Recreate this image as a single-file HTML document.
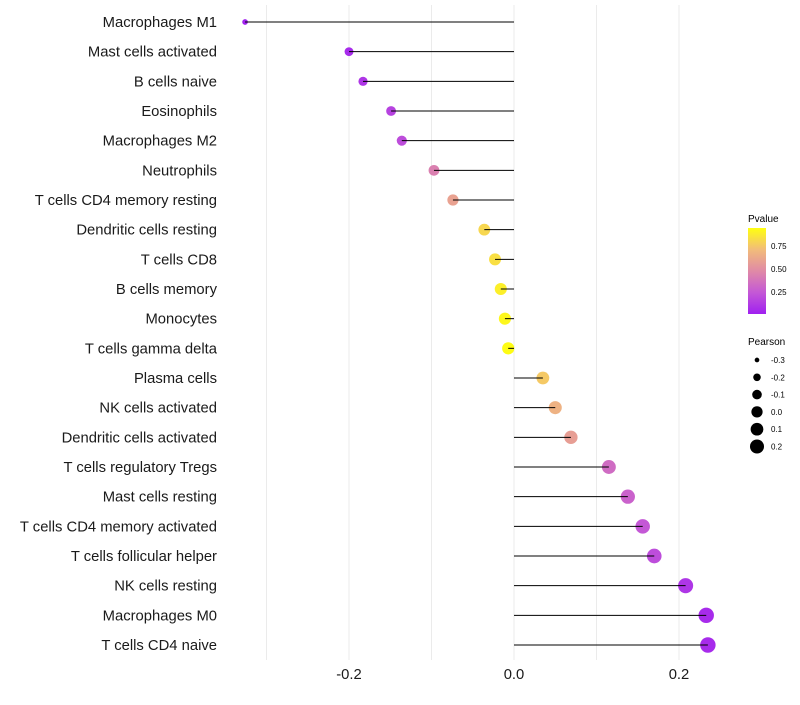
<!DOCTYPE html>
<html><head><meta charset="utf-8"><style>
body{margin:0;background:#fff;font-family:"Liberation Sans",sans-serif}
svg text{font-family:"Liberation Sans",sans-serif}
</style></head><body>
<svg id="chart" width="800" height="700" xmlns="http://www.w3.org/2000/svg">
<defs><linearGradient id="pg" x1="0" y1="1" x2="0" y2="0">
<stop offset="0" stop-color="#a020f0"/><stop offset="0.25" stop-color="#c458d6"/><stop offset="0.5" stop-color="#e08aa6"/><stop offset="0.75" stop-color="#f2bc7a"/><stop offset="1" stop-color="#ffff10"/></linearGradient></defs>
<g id="grid"></g><g id="points"></g><g id="stems"></g><g id="ylabels"></g><g id="xlabels"></g>
<g>
<text x="748" y="222" font-size="10">Pvalue</text>
<rect x="748" y="228" width="18" height="86" fill="url(#pg)"/>
<text x="771" y="249" font-size="8">0.75</text>
<text x="771" y="272" font-size="8">0.50</text>
<text x="771" y="295" font-size="8">0.25</text>
</g>
<g id="sizelegend">
<text x="748" y="345" font-size="10">Pearson</text>
</g>
</svg>
<script>
const categories=["Macrophages M1","Mast cells activated","B cells naive","Eosinophils","Macrophages M2","Neutrophils","T cells CD4 memory resting","Dendritic cells resting","T cells CD8","B cells memory","Monocytes","T cells gamma delta","Plasma cells","NK cells activated","Dendritic cells activated","T cells regulatory  Tregs ","Mast cells resting","T cells CD4 memory activated","T cells follicular helper","NK cells resting","Macrophages M0","T cells CD4 naive"];
const pearson=[-0.326,-0.200,-0.183,-0.149,-0.136,-0.097,-0.074,-0.036,-0.023,-0.016,-0.011,-0.007,0.035,0.050,0.069,0.115,0.138,0.156,0.170,0.208,0.233,0.235];
const pvalue=[0.01,0.05,0.1,0.15,0.2,0.45,0.62,0.85,0.88,0.94,0.97,0.99,0.8,0.7,0.6,0.35,0.3,0.25,0.2,0.1,0.05,0.05];
const xTicks=[-0.2,0.0,0.2];
const xTickLabels=["-0.2","0.0","0.2"];
const gridVals=[-0.3,-0.2,-0.1,0,0.1,0.2];
const sizeLegendVals=[-0.3,-0.2,-0.1,0.0,0.1,0.2];
const sizeLegendLabels=["-0.3","-0.2","-0.1","0.0","0.1","0.2"];
const NS="http://www.w3.org/2000/svg";
const x=v=>514+v*825;
const y=i=>22+i*(623/21);
const r=v=>Math.sqrt(Math.max(2,38+92*v));
const lr=v=>Math.sqrt(Math.max(2,31.7+87.4*v));
const stops=[[0,[160,32,240]],[0.25,[196,88,214]],[0.5,[224,138,166]],[0.75,[242,188,122]],[1,[255,255,16]]];
function col(p){for(let k=1;k<stops.length;k++){if(p<=stops[k][0]){const a=stops[k-1],b=stops[k],t=(p-a[0])/(b[0]-a[0]);return "rgb("+a[1].map((c,j)=>Math.round(c+(b[1][j]-c)*t)).join(",")+")";}}return "rgb(255,255,16)";}
function mk(t,attrs,parent){const e=document.createElementNS(NS,t);for(const k in attrs)e.setAttribute(k,attrs[k]);parent.appendChild(e);return e;}
const grid=document.getElementById('grid');
gridVals.forEach(v=>{const l=mk('line',{x1:x(v),x2:x(v),y1:5,y2:660,stroke:'#ebebeb','stroke-width':1},grid);

});
const pts=document.getElementById('points'),stems=document.getElementById('stems'),yl=document.getElementById('ylabels'),xl=document.getElementById('xlabels');
categories.forEach((c,i)=>{
const d=mk('circle',{cx:x(pearson[i]),cy:y(i),r:r(pearson[i]),fill:col(pvalue[i])},pts);


const s=mk('line',{x1:x(0),x2:x(pearson[i]),y1:y(i),y2:y(i),stroke:'#000','stroke-width':1},stems);


const t=mk('text',{x:217,y:y(i)+5,'font-size':14.8,'text-anchor':'end',fill:'#1a1a1a'},yl);t.textContent=c;


});
xTicks.forEach((v,i)=>{const t=mk('text',{x:x(v),y:679,'font-size':14.8,'text-anchor':'middle',fill:'#1a1a1a'},xl);t.textContent=xTickLabels[i];

});
const sl=document.getElementById('sizelegend');
sizeLegendVals.forEach((v,i)=>{const cy=360+i*17.3;
const c=mk('circle',{cx:757,cy:cy,r:lr(v),fill:'#000'},sl);


const t=mk('text',{x:771,y:cy+3,'font-size':8},sl);t.textContent=sizeLegendLabels[i];

});
</script>
</body></html>
